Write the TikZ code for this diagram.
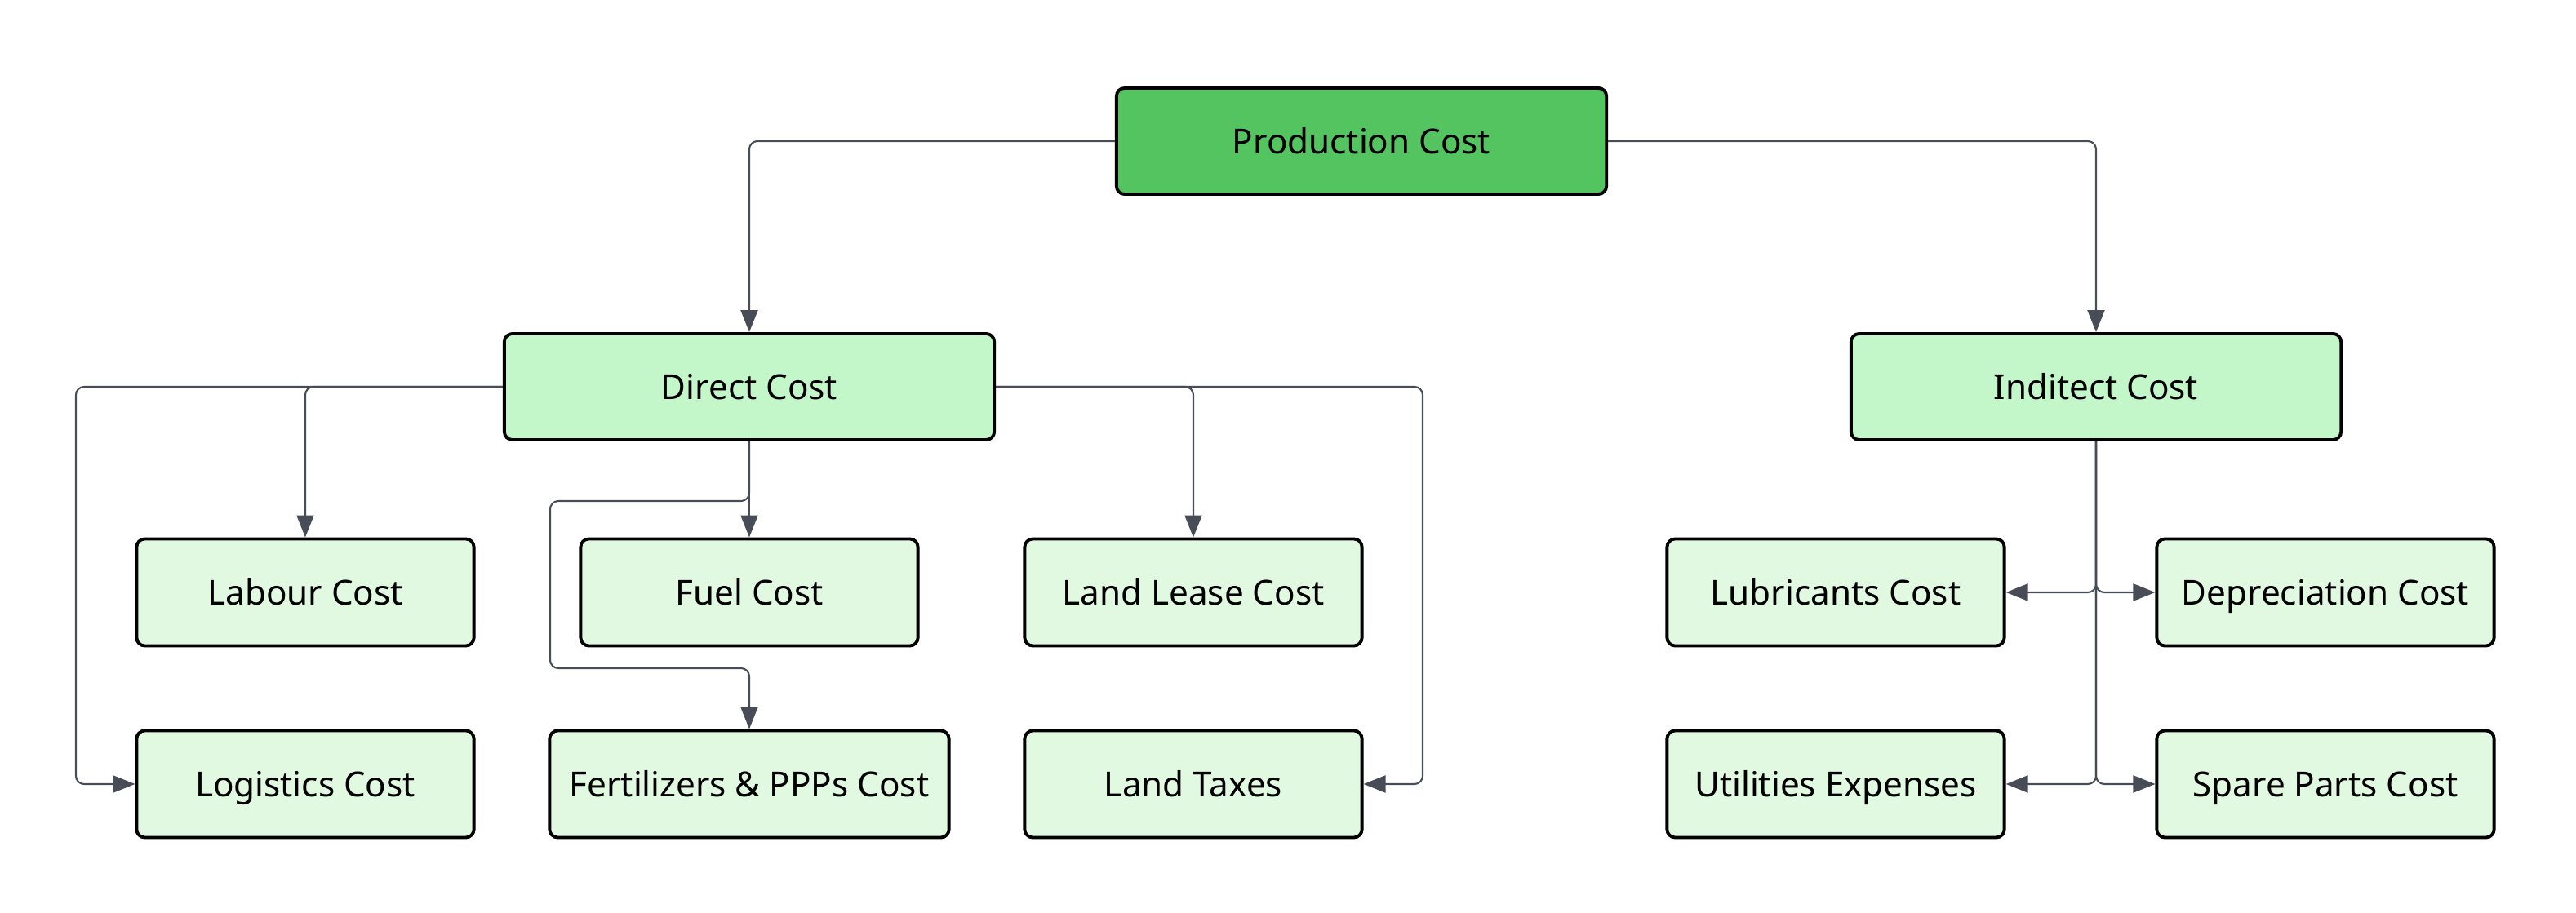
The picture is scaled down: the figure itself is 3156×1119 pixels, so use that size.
\documentclass[tikz,border=0pt]{standalone}
\usepackage{fontspec}
\setmainfont{Noto Sans}
\usetikzlibrary{arrows.meta}
\definecolor{prodfill}{RGB}{83,196,95}
\definecolor{midfill}{RGB}{195,246,200}
\definecolor{leaffill}{RGB}{225,248,225}
\definecolor{linkgray}{RGB}{72,76,86}
\tikzset{
  costbox/.style={draw=black, line width=1.1pt, rounded corners=0.1cm, align=center,
    font=\fontsize{12}{14}\selectfont, inner sep=0pt, text height=2.05ex, text depth=0.4ex},
  topbox/.style={costbox, fill=prodfill, minimum width=6cm, minimum height=1.3cm},
  midbox/.style={costbox, fill=midfill, minimum width=6cm, minimum height=1.3cm},
  leafbox/.style={costbox, fill=leaffill, minimum width=4.13cm, minimum height=1.31cm},
  link/.style={draw=linkgray, line width=0.6pt, rounded corners=0.1cm,
    -{Triangle[length=0.27cm,width=0.21cm]}}
}
\begin{document}
\begin{tikzpicture}[x=0.01cm, y=-0.01cm]
        \useasboundingbox (0,0) rectangle (3156,1119);
        \node[topbox] (prod) at (1668,173) {Production Cost};
        \node[midbox] (direct) at (918,474) {Direct Cost};
        \node[midbox] (indirect) at (2568,474) {Inditect Cost};
        \node[leafbox] (labour) at (374,726) {Labour Cost};
        \node[leafbox] (fuel) at (918,726) {Fuel Cost};
        \node[leafbox] (lease) at (1462,726) {Land Lease Cost};
        \node[leafbox] (lubric) at (2249,726) {Lubricants Cost};
        \node[leafbox] (deprec) at (2849,726) {Depreciation Cost};
        \node[leafbox] (logist) at (374,961) {Logistics Cost};
        \node[leafbox, minimum width=4.89cm] (fert) at (918,961) {Fertilizers \& PPPs Cost};
        \node[leafbox] (taxes) at (1462,961) {Land Taxes};
        \node[leafbox] (util) at (2249,961) {Utilities Expenses};
        \node[leafbox] (spare) at (2849,961) {Spare Parts Cost};
        \coordinate (lgturn) at (93,961);
        \coordinate (fertA) at (674,614);
        \coordinate (fertB) at (674,819);
        \coordinate (txturn) at (1743,961);
        \draw[link] (prod.west) -| (direct.north);
        \draw[link] (prod.east) -| (indirect.north);
        \draw[link] (direct.west) -| (labour.north);
        \draw[link] (direct.west) -| (lgturn) -- (logist.west);
        \draw[link] (direct.south) -- (fuel.north);
        \draw[link] (direct.south) |- (fertA) -- (fertB) -| (fert.north);
        \draw[link] (direct.east) -| (lease.north);
        \draw[link] (direct.east) -| (txturn) -- (taxes.east);
        \draw[link] (indirect.south) |- (lubric.east);
        \draw[link] (indirect.south) |- (deprec.west);
        \draw[link] (indirect.south) |- (util.east);
        \draw[link] (indirect.south) |- (spare.west);
        \end{tikzpicture}
\end{document}
